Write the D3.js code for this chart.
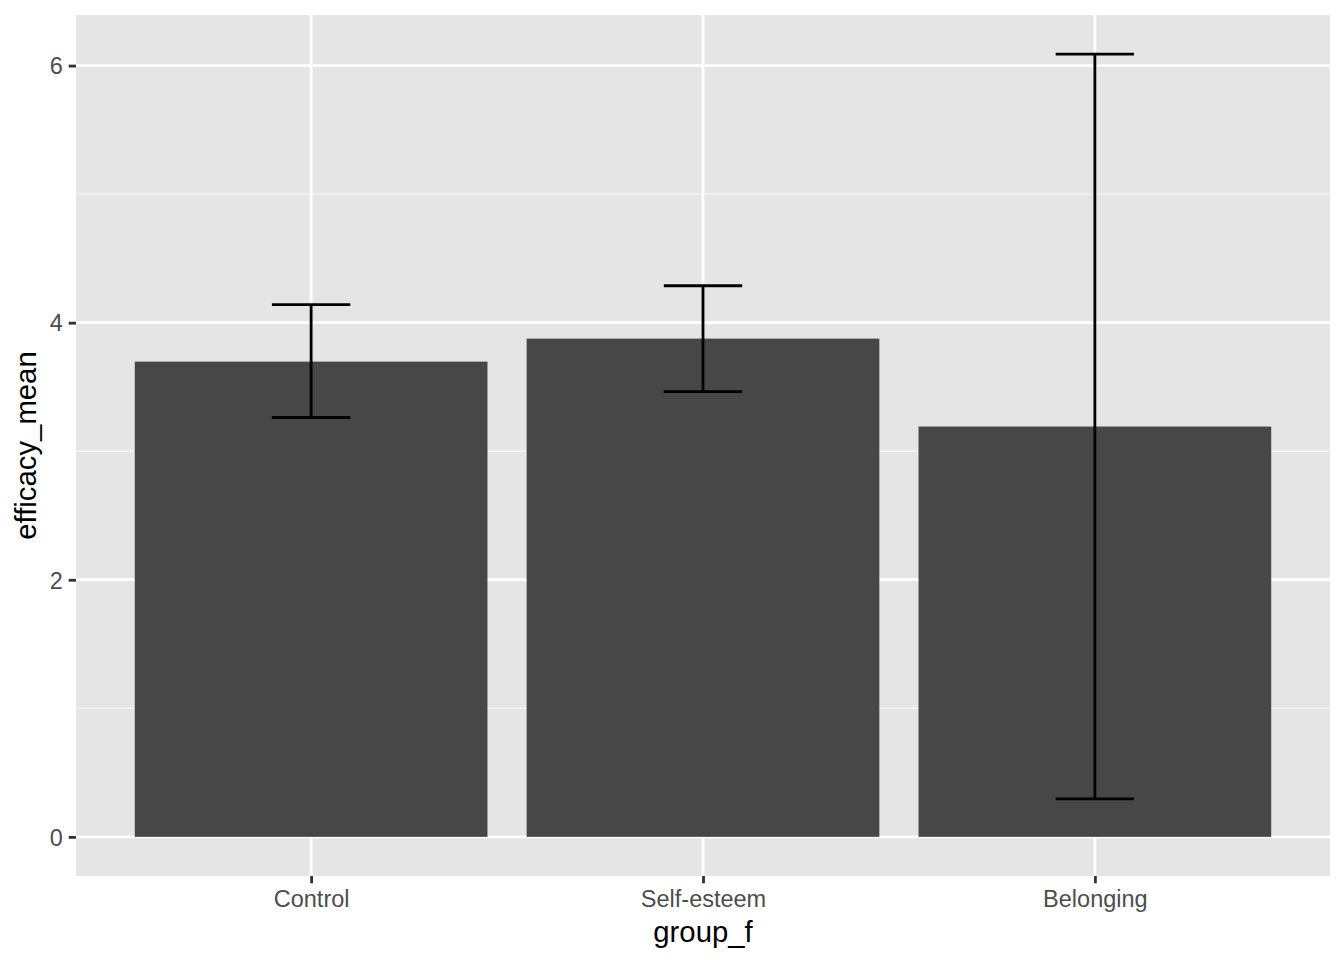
<!DOCTYPE html>
<html>
<head>
<meta charset="utf-8">
<script src="https://cdn.jsdelivr.net/npm/d3@7"></script>
<style>
  body { margin: 0; background: #fff; }
  text { font-family: "Liberation Sans", Arial, sans-serif; }
</style>
</head>
<body>
<div id="chart"></div>
<script>
// values
var groups = ["Control", "Self-esteem", "Belonging"];
var means = [3.697, 3.876, 3.192];
var lower = [3.262, 3.464, 0.295];
var upper = [4.140, 4.287, 6.089];
var yTicks = [0, 2, 4, 6];
var yMinor = [1, 3, 5];

var W = 1344, H = 960;
var margin = {top: 15, right: 14, bottom: 84, left: 76};
var width = W - margin.left - margin.right,
    height = H - margin.top - margin.bottom;

var svg = d3.select("#chart").append("svg")
  .attr("width", W).attr("height", H);

var g = svg.append("g")
  .attr("transform", "translate(" + margin.left + "," + margin.top + ")");

// ggplot style expansion: 5% on continuous, 0.6 on discrete
var ymax = d3.max(upper), ymin = 0;
var pad = (ymax - ymin) * 0.05;
var y = d3.scaleLinear().domain([ymin - pad, ymax + pad]).range([height, 0]);

var x = d3.scaleLinear().domain([0.4, groups.length + 0.6]).range([0, width]);
var step = x(2) - x(1);

g.append("rect")
  .attr("width", width).attr("height", height)
  .attr("fill", "#e5e5e5");

// grid
g.selectAll(".minor").data(yMinor).enter().append("line")
  .attr("x1", 0).attr("x2", width)
  .attr("y1", function(d) { return y(d); })
  .attr("y2", function(d) { return y(d); })
  .style("stroke", "#f5f5f5").style("stroke-width", 1.4);

g.selectAll(".major").data(yTicks).enter().append("line")
  .attr("x1", 0).attr("x2", width)
  .attr("y1", function(d) { return y(d); })
  .attr("y2", function(d) { return y(d); })
  .style("stroke", "#fff").style("stroke-width", 2.85);

g.selectAll(".vgrid").data(groups).enter().append("line")
  .attr("x1", function(d, i) { return x(i + 1); })
  .attr("x2", function(d, i) { return x(i + 1); })
  .attr("y1", 0).attr("y2", height)
  .style("stroke", "#fff").style("stroke-width", 2.85);

// bars
var bw = step * 0.9;
g.selectAll(".bar").data(means).enter().append("rect")
  .attr("x", function(d, i) { return x(i + 1) - bw / 2; })
  .attr("width", bw)
  .attr("y", function(d) { return y(d); })
  .attr("height", function(d) { return y(0) - y(d); })
  .attr("fill", "#474747");

// error bars
var ew = step * 0.1;
var eb = g.selectAll(".err").data(groups).enter().append("g");
eb.append("line")
  .attr("x1", function(d, i) { return x(i + 1); })
  .attr("x2", function(d, i) { return x(i + 1); })
  .attr("y1", function(d, i) { return y(lower[i]); })
  .attr("y2", function(d, i) { return y(upper[i]); });
eb.append("line")
  .attr("x1", function(d, i) { return x(i + 1) - ew; })
  .attr("x2", function(d, i) { return x(i + 1) + ew; })
  .attr("y1", function(d, i) { return y(upper[i]); })
  .attr("y2", function(d, i) { return y(upper[i]); });
eb.append("line")
  .attr("x1", function(d, i) { return x(i + 1) - ew; })
  .attr("x2", function(d, i) { return x(i + 1) + ew; })
  .attr("y1", function(d, i) { return y(lower[i]); })
  .attr("y2", function(d, i) { return y(lower[i]); });
eb.selectAll("line").style("stroke", "#000").style("stroke-width", 2.85);

// axes
var yAxis = d3.axisLeft(y).tickValues(yTicks).tickFormat(d3.format("d"))
  .tickSize(7.3).tickPadding(5.9);
var ya = g.append("g").call(yAxis);
var xAxis = d3.axisBottom(d3.scalePoint().domain(groups).range([x(1), x(groups.length)]))
  .tickSize(7.3).tickPadding(5.9);
var xa = g.append("g").attr("transform", "translate(0," + height + ")").call(xAxis);

[ya, xa].forEach(function(a) {
  a.select(".domain").remove();
  a.selectAll(".tick line").style("stroke", "#333").style("stroke-width", 2.85);
  a.selectAll(".tick text")
    .style("fill", "#4d4d4d")
    .style("font-size", "23.5px")
    .style("font-family", "'Liberation Sans', Arial, sans-serif");
});
ya.selectAll(".tick text").attr("dy", "0.35em");
xa.selectAll(".tick text").attr("dy", "0.75em");

// axis titles
svg.append("text")
  .attr("x", margin.left + width / 2)
  .attr("y", H - 18)
  .attr("text-anchor", "middle")
  .style("font-size", "29.3px")
  .text("group_f");

svg.append("text")
  .attr("transform", "translate(36," + (margin.top + height / 2) + ") rotate(-90)")
  .attr("text-anchor", "middle")
  .style("font-size", "29.3px")
  .text("efficacy_mean");
</script>
</body>
</html>
